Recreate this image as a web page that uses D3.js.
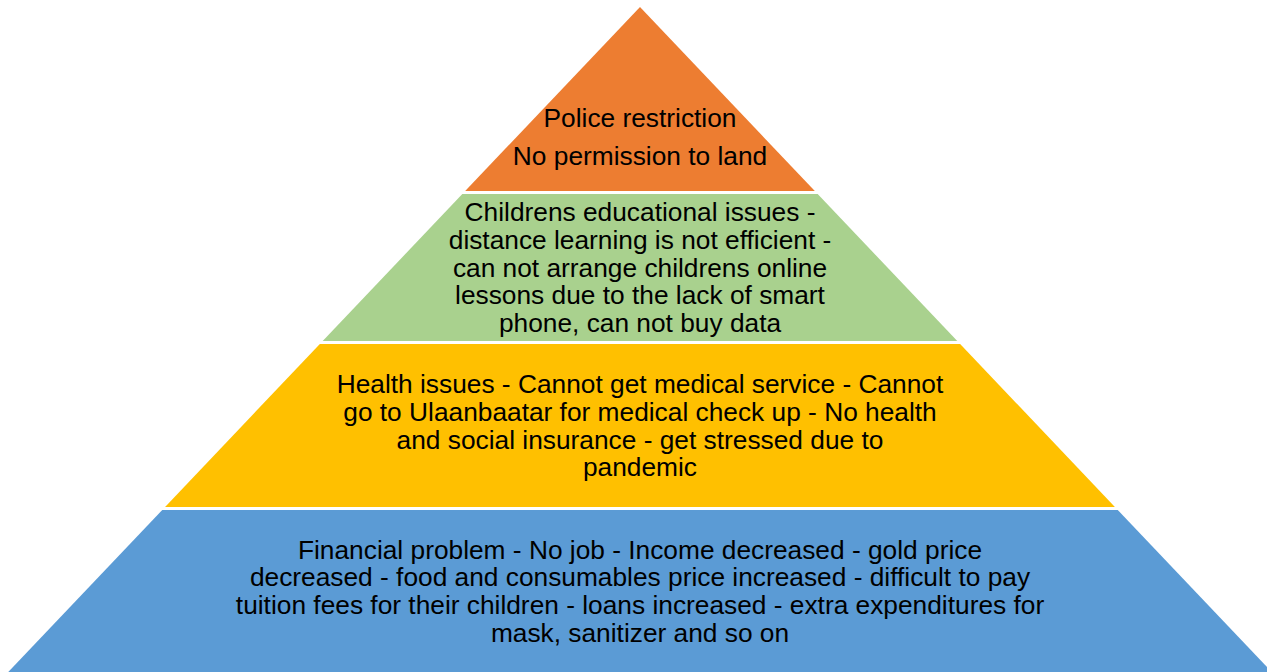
<!DOCTYPE html>
<html>
<head>
<meta charset="utf-8">
<script src="https://cdn.jsdelivr.net/npm/d3@7"></script>
<style>
	html, body { margin: 0; padding: 0; background: #fff; }
	svg { display: block; }
</style>
</head>
<body>
<svg id="svg" width="1267" height="672"></svg>
<script>
// pyramid levels, top to bottom
var levels = ["restrictions", "education", "health", "financial"];
var colors = ["#ED7D31", "#A9D18E", "#FFC000", "#5B9BD5"];
var labels = [
	["Police restriction", "No permission to land"],
	["Childrens educational issues -", "distance learning is not efficient -", "can not arrange childrens online", "lessons due to the lack of smart", "phone, can not buy data"],
	["Health issues - Cannot get medical service - Cannot", "go to Ulaanbaatar for medical check up -  No health", "and social insurance - get stressed due to", "pandemic"],
	["Financial problem - No job - Income decreased - gold price", "decreased - food and consumables price increased - difficult to pay", "tuition fees for their children - loans increased - extra expenditures for", "mask, sanitizer and so on"]
];
// where each level ends, as share of pyramid height
var bounds = [0, 0.279, 0.5045, 0.754, 1];

var width = 1267, height = 672;
var svg = d3.select("#svg");

var apexX = 640, apexY = 7, baseY = 672, slope = 0.95;
var gap = 3;

var y = d3.scaleLinear().domain([0, 1]).range([apexY, baseY]);
function halfW(py){ return slope * (py - apexY); }

var g = svg.append("g");

levels.forEach(function(lv, i){
	var top = y(bounds[i]) + (i === 0 ? 0 : gap / 2);
	var bot = y(bounds[i + 1]) - (i === levels.length - 1 ? 0 : gap / 2);
	var pts = [
		[apexX - halfW(top), top],
		[apexX + halfW(top), top],
		[apexX + halfW(bot), bot],
		[apexX - halfW(bot), bot]
	];
	g.append("path")
		.attr("d", d3.line()(pts) + "Z")
		.attr("fill", colors[i])
		.attr("class", "level level-" + lv);

	var lines = labels[i];
	var lh = 27.7;
	var cy = (top + bot) / 2;
	if(i === 0){
		// triangle text sits low, with paragraph spacing
		lh = 38;
		cy = 137;
	}
	var t = g.append("text")
		.attr("text-anchor", "middle")
		.attr("font-family", "'Liberation Sans', Arial, sans-serif")
		.attr("font-size", 26.3)
		.attr("fill", "#000");
	lines.forEach(function(s, j){
		t.append("tspan")
			.attr("x", apexX)
			.attr("y", cy + (j - (lines.length - 1) / 2) * lh)
			.attr("dy", "0.35em")
			.text(s);
	});
});
</script>
</body>
</html>
